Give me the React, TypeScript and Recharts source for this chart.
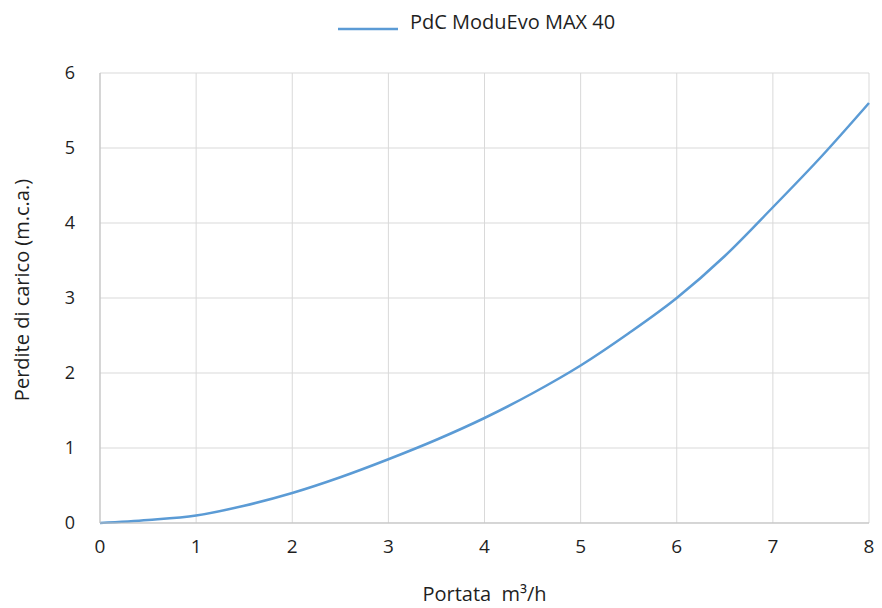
import React from 'react';
import { LineChart, Line, XAxis, YAxis, CartesianGrid, Legend } from 'recharts';

const flowRates = [0, 0.5, 1, 1.5, 2, 2.5, 3, 3.5, 4, 4.5, 5, 5.5, 6, 6.5, 7, 7.5, 8];
const pressureLoss = [0, 0.04, 0.1, 0.23, 0.4, 0.61, 0.85, 1.11, 1.4, 1.73, 2.1, 2.53, 3.0, 3.56, 4.21, 4.88, 5.6];
const xTicks = [0, 1, 2, 3, 4, 5, 6, 7, 8];
const yTicks = [0, 1, 2, 3, 4, 5, 6];
const seriesName = 'PdC ModuEvo MAX 40';

const data = flowRates.map((x, i) => ({ x, y: pressureLoss[i] }));

const FONT = '"Open Sans", "Noto Sans", sans-serif';
const TEXT = '#1f1f1f';
const LINE = '#5b9bd5';

// fixed height so the offset it adds to the plot is predictable
const LegendContent = () => (
  <div style={{ height: 30, position: 'relative', fontFamily: FONT, fontSize: 20, color: TEXT }}>
    <svg width={60} height={4} style={{ position: 'absolute', left: 338, top: 27 }}>
      <line x1={0} y1={2} x2={60} y2={2} stroke={LINE} strokeWidth={2.5} />
    </svg>
    <span style={{ position: 'absolute', left: 410, top: 7, lineHeight: '30px', whiteSpace: 'nowrap' }}>{seriesName}</span>
  </div>
);

export default function App() {
  return (
    <div style={{ position: 'absolute', left: 0, top: 0, background: '#fff' }}>
      <LineChart width={882} height={608} data={data} margin={{ top: 43, right: 13, bottom: 0, left: 0 }}>
        <CartesianGrid stroke="#d9d9d9" strokeWidth={1} />
        <XAxis
          dataKey="x"
          type="number"
          domain={[0, 8]}
          ticks={xTicks}
          height={85}
          tickLine={false}
          tickSize={0}
          tickMargin={17}
          axisLine={{ stroke: '#bfbfbf' }}
          tick={{ fill: TEXT, fontSize: 19, fontFamily: FONT }}
          label={{ value: 'Portata\u00a0 m³/h', position: 'insideBottom', offset: 7, fill: TEXT, fontSize: 20, fontFamily: FONT }}
        />
        <YAxis
          type="number"
          domain={[0, 6]}
          ticks={yTicks}
          width={100}
          tickLine={false}
          tickSize={0}
          tickMargin={25}
          axisLine={{ stroke: '#bfbfbf' }}
          tick={{ fill: TEXT, fontSize: 18, fontFamily: FONT }}
          label={{ value: 'Perdite di carico (m.c.a.)', angle: -90, position: 'center', dx: -28, dy: -8, fill: TEXT, fontSize: 20, fontFamily: FONT }}
        />
        <Legend
          verticalAlign="top"
          content={<LegendContent />}
          wrapperStyle={{ position: 'absolute', top: 0, left: 0, width: 882 }}
        />
        <Line
          type="monotone"
          dataKey="y"
          name={seriesName}
          stroke={LINE}
          strokeWidth={2.5}
          dot={false}
          isAnimationActive={false}
        />
      </LineChart>
    </div>
  );
}
